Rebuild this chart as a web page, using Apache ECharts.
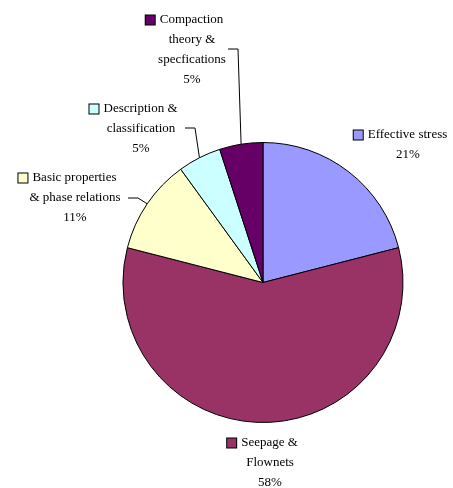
<!DOCTYPE html>
<html>
<head>
<meta charset="utf-8">
<script src="https://cdn.jsdelivr.net/npm/echarts@6/dist/echarts.min.js"></script>
<style>
html,body{margin:0;padding:0;background:#fff;}
#chart{width:453px;height:488px;}
</style>
</head>
<body>
<div id="chart"></div>
<script>
// ---- data ----
var categories = ['Effective stress', 'Seepage & Flownets', 'Basic properties & phase relations', 'Description & classification', 'Compaction theory & specfications'];
var labelLines = [
  ['Effective stress'],
  ['Seepage &', 'Flownets'],
  ['Basic properties', '& phase relations'],
  ['Description &', 'classification'],
  ['Compaction', 'theory &', 'specfications']
];
var values = [21, 58, 11, 5, 5];
var colors = ['#9999FF', '#993366', '#FFFFCC', '#CCFFFF', '#660066'];
var showLeader = [false, false, true, true, true];

// ---- layout (label placement, not data) ----
var labelAt = [[408, 145], [270, 463], [75, 198], [141, 129], [192, 50]];
var leaderEnd = [null, null, [128, 198], [185, 128], [228, 49]];
var elbow = 10;
var FONT = "'Liberation Serif', 'Times New Roman', Times, serif";

var rich = {
  t: { fontFamily: FONT, fontSize: 13, color: '#000', lineHeight: 20 },
  gap: { width: 5, height: 9 },
  pad: { width: 15, height: 9 }
};
colors.forEach(function (c, i) {
  rich['b' + i] = { width: 9, height: 9, backgroundColor: c, borderColor: '#000', borderWidth: 1 };
});

var data = categories.map(function (name, i) {
  return {
    name: name,
    value: values[i],
    itemStyle: { color: colors[i] },
    labelLine: { show: showLeader[i] }
  };
});

var chart = echarts.init(document.getElementById('chart'), null, { renderer: 'canvas' });
chart.setOption({
  animation: false,
  backgroundColor: '#fff',
  textStyle: { fontFamily: FONT },
  series: [{
    type: 'pie',
    center: [263, 282.5],
    radius: 140,
    startAngle: 90,
    clockwise: true,
    avoidLabelOverlap: false,
    emphasis: { disabled: true },
    silent: true,
    itemStyle: { borderColor: '#000', borderWidth: 1 },
    data: data,
    label: {
      show: true,
      position: 'outside',
      color: '#000',
      fontFamily: FONT,
      fontSize: 13,
      lineHeight: 20,
      align: 'center',
      rich: rich,
      formatter: function (p) {
        var lines = labelLines[p.dataIndex].map(function (s) { return '{t|' + s + '}'; });
        lines[0] = '{b' + p.dataIndex + '|}{gap|}' + lines[0] + '{pad|}';
        lines.push('{t|' + Math.round(p.percent) + '%}');
        return lines.join('\n');
      }
    },
    labelLine: {
      show: true,
      length: 10,
      length2: 10,
      lineStyle: { color: '#000', width: 1 }
    },
    labelLayout: function (params) {
      var i = params.dataIndex;
      var out = {
        x: labelAt[i][0],
        y: labelAt[i][1],
        align: 'center',
        verticalAlign: 'middle'
      };
      if (leaderEnd[i] && params.labelLinePoints) {
        var s = params.labelLinePoints[0];
        var e = leaderEnd[i];
        out.labelLinePoints = [[s[0], s[1]], [e[0] + elbow, e[1]], [e[0], e[1]]];
      }
      return out;
    }
  }]
});
</script>
</body>
</html>
